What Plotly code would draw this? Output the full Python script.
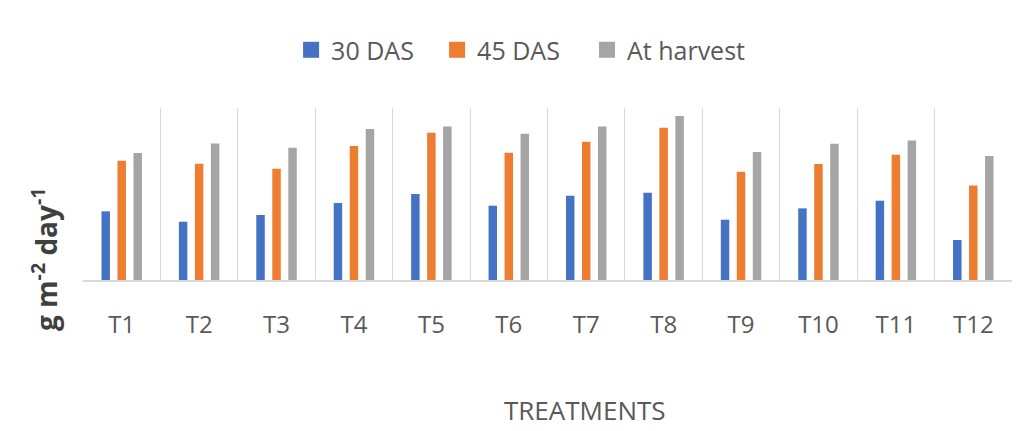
import plotly.graph_objects as go

categories = ["T1", "T2", "T3", "T4", "T5", "T6", "T7", "T8", "T9", "T10", "T11", "T12"]
das30 = [7.98, 6.78, 7.56, 8.95, 10.0, 8.64, 9.80, 10.15, 7.01, 8.33, 9.22, 4.65]
das45 = [13.87, 13.52, 12.94, 15.58, 17.13, 14.80, 16.08, 17.71, 12.59, 13.49, 14.57, 11.0]
harvest = [14.77, 15.88, 15.38, 17.56, 17.86, 17.01, 17.86, 19.07, 14.88, 15.85, 16.23, 14.42]

series = [("30 DAS", das30, "#4472C4", "legend"),
          ("45 DAS", das45, "#ED7D31", "legend"),
          ("At harvest", harvest, "#A5A5A5", "legend2")]

fig = go.Figure()
for name, vals, col, lg in series:
    fig.add_trace(go.Bar(x=categories, y=vals, name=name, showlegend=False,
                         marker=dict(color=col, line=dict(width=0))))
# legend entries with larger square symbols
for name, vals, col, lg in series:
    fig.add_trace(go.Scatter(x=[None], y=[None], mode="markers", name=name, legend=lg,
                             marker=dict(symbol="square", size=16, color=col)))

font_family = "Open Sans, Noto Sans, sans-serif"
legend_common = dict(orientation="h", xanchor="left", y=1.337, yanchor="middle",
                     font=dict(size=25, color="#595959"), itemwidth=30, traceorder="normal",
                     itemsizing="trace", bgcolor="rgba(0,0,0,0)")
fig.update_layout(
    width=1020, height=423,
    margin=dict(l=75, r=16, t=100, b=151, autoexpand=False),
    paper_bgcolor="white", plot_bgcolor="white",
    barmode="group", bargap=0.38, bargroupgap=0.47,
    font=dict(family=font_family, color="#595959"),
    showlegend=True,
    legend=dict(x=0.224, entrywidth=101, entrywidthmode="pixels", **legend_common),
    legend2=dict(x=0.5425, **legend_common),
    xaxis=dict(type="category", tickson="boundaries", showgrid=True, gridcolor="#D9D9D9", gridwidth=1,
               ticks="", showline=True, linecolor="#D9D9D9", linewidth=2,
               tickfont=dict(size=24, color="#595959"), ticklabelstandoff=22),
    yaxis=dict(range=[0, 20], showgrid=False, showticklabels=False, zeroline=False, ticks="", showline=False),
)

fig.add_annotation(text="<b>g m<sup>-2</sup> day<sup>-1</sup></b>", xref="paper", yref="paper",
                   x=(44 - 83) / 929, y=(280 - 260) / 172, textangle=-90, showarrow=False,
                   font=dict(size=28, color="#404040", family=font_family), xanchor="center", yanchor="middle")
fig.add_annotation(text="TREATMENTS", xref="paper", yref="paper",
                   x=(585 - 83) / 929, y=(280 - 410) / 172, showarrow=False,
                   font=dict(size=26, color="#595959", family=font_family), xanchor="center", yanchor="middle")

fig.write_html("out.html")
